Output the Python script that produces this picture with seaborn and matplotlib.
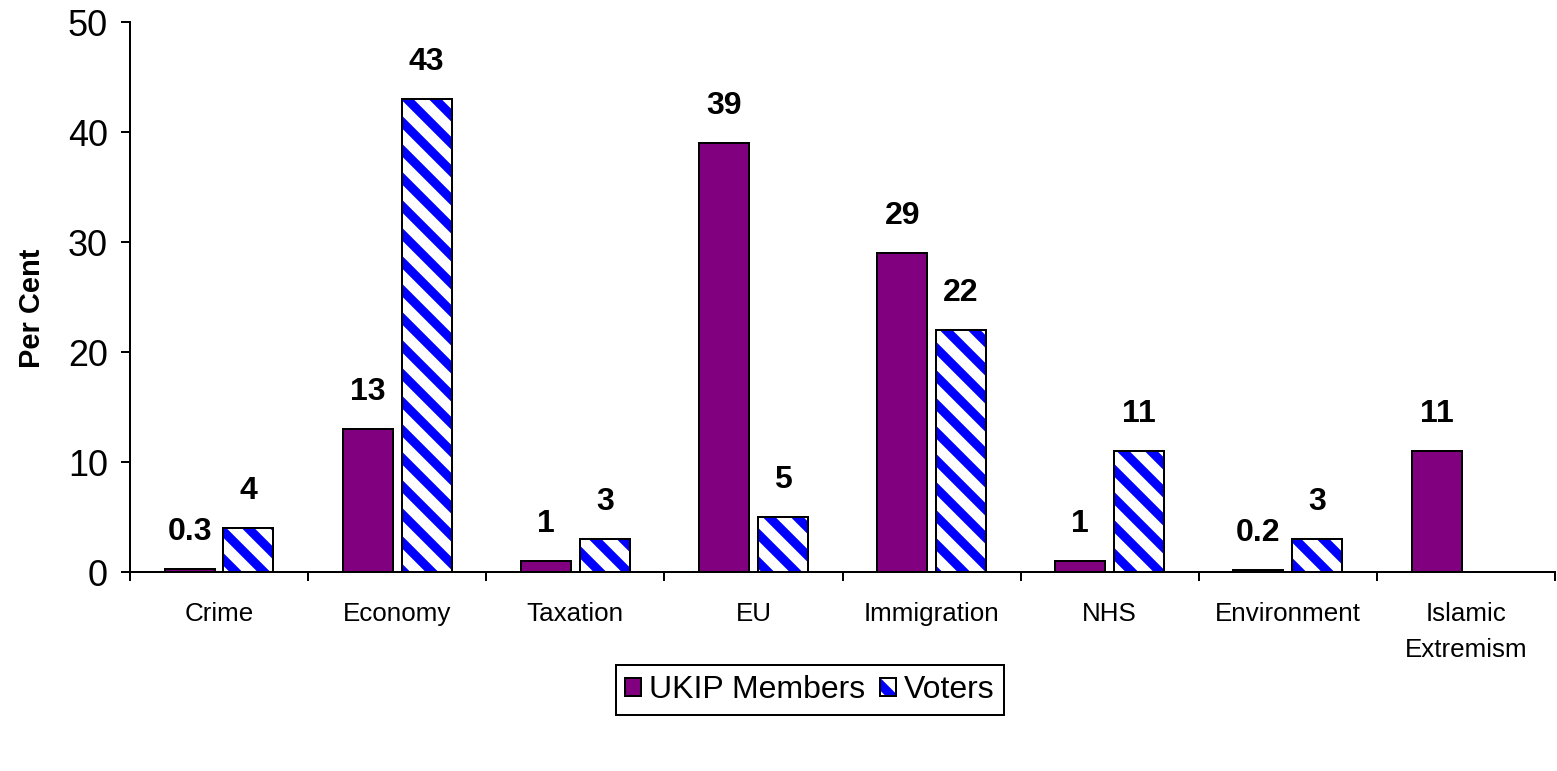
import numpy as np
import pandas as pd
import matplotlib
matplotlib.use("Agg")
import matplotlib.pyplot as plt
import seaborn as sns
from matplotlib.patches import Patch
from matplotlib.ticker import FixedLocator, MultipleLocator

# Most important issue, per cent
categories = ["Crime", "Economy", "Taxation", "EU", "Immigration", "NHS",
              "Environment", "Islamic\nExtremism"]
ukip_members = [0.3, 13, 1, 39, 29, 1, 0.2, 11]
voters = [4, 43, 3, 5, 22, 11, 3, np.nan]
series_names = ["UKIP Members", "Voters"]

DPI = 168
W, H = 1557, 771


def px(v):
    """Convert a length in output pixels to points."""
    return v * 72 / DPI


purple = "#800080"
blue = "#0000FF"
HATCH = "\\\\"

sns.set_theme(style="white")
plt.rcParams["font.family"] = ["Liberation Sans", "DejaVu Sans"]
plt.rcParams["hatch.linewidth"] = px(9)

df = pd.DataFrame({
    "category": categories * 2,
    "series": [series_names[0]] * len(categories) + [series_names[1]] * len(categories),
    "value": ukip_members + voters,
})

fig = plt.figure(figsize=(W / DPI, H / DPI), dpi=DPI)
ax = fig.add_axes([130 / W, 1 - 572 / H, 1425 / W, 550 / H])

common = dict(data=df, x="category", y="value", hue="series", order=categories,
              hue_order=series_names, width=0.66, gap=0.15, saturation=1,
              errorbar=None, legend=False, ax=ax)

# Filled bars; the voters get a blue diagonal hatch
sns.barplot(**common, palette={series_names[0]: purple, series_names[1]: "white"},
            linewidth=0)
for bar in ax.containers[1]:
    bar.set_hatch(HATCH)
    bar.set_edgecolor(blue)
    bar.set_linewidth(0)

# Black outlines on top
sns.barplot(**common, palette={series_names[0]: "black", series_names[1]: "black"},
            fill=False, linewidth=px(2))

# Value labels above each bar
for cont in ax.containers[:2]:
    for bar in cont:
        h = bar.get_height()
        if np.isnan(h):
            continue
        ax.annotate(f"{h:g}", (bar.get_x() + bar.get_width() / 2, h),
                    xytext=(0, px(37)), textcoords="offset points",
                    ha="center", va="center", fontsize=px(32),
                    fontweight="bold", color="black")

ax.set_xlim(-0.5, len(categories) - 0.5)
ax.set_ylim(0, 50)
ax.yaxis.set_major_locator(MultipleLocator(10))
ax.xaxis.set_minor_locator(FixedLocator(np.arange(-0.5, len(categories), 1)))

for side in ["top", "right"]:
    ax.spines[side].set_visible(False)
for side in ["left", "bottom"]:
    ax.spines[side].set_color("black")
    ax.spines[side].set_linewidth(px(2))

ax.tick_params(axis="y", which="major", left=True, direction="out",
               length=px(9), width=px(2), color="black",
               labelsize=px(36), pad=px(13), labelcolor="black")
ax.tick_params(axis="x", which="major", bottom=True, length=0,
               labelsize=px(26), pad=px(30), labelcolor="black")
ax.tick_params(axis="x", which="minor", bottom=True, direction="out",
               length=px(9), width=px(2), color="black")
for lbl in ax.get_xticklabels():
    lbl.set_linespacing(1.65)

ax.set_xlabel("")
ax.set_ylabel("Per Cent", fontsize=px(29), fontweight="bold", color="black")
ax.yaxis.set_label_coords(-0.059, 0.48)

handles = [
    Patch(facecolor=purple, edgecolor="black", linewidth=px(2)),
    (Patch(facecolor="white", edgecolor=blue, hatch=HATCH, linewidth=0),
     Patch(facecolor="none", edgecolor="black", linewidth=px(2))),
]
leg = fig.legend(handles, series_names, loc="center",
                 bbox_to_anchor=(810 / W, 1 - 690 / H),
                 bbox_transform=fig.transFigure, ncol=2,
                 fontsize=px(32), frameon=True, fancybox=False,
                 framealpha=1, edgecolor="black", labelcolor="black",
                 handlelength=0.5, handleheight=0.5, handletextpad=0.25,
                 columnspacing=0.45, borderpad=0.3, borderaxespad=0)
leg.get_frame().set_linewidth(px(2))

fig.savefig("out.png", dpi=DPI)
